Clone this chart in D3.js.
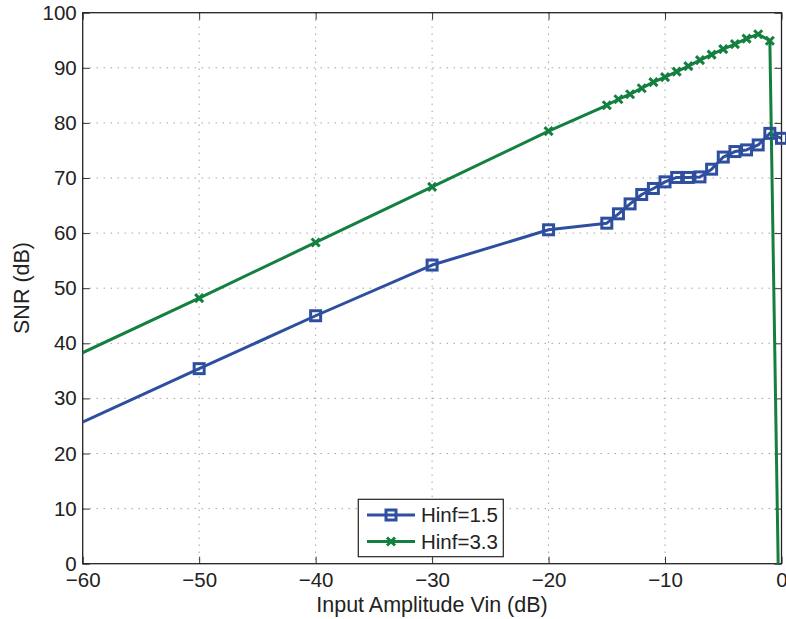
<!DOCTYPE html>
<html><head><meta charset="utf-8">
<script src="https://cdn.jsdelivr.net/npm/d3@7"></script>
<style>body{margin:0;background:#fff}svg{display:block}text{font-family:"Liberation Sans",Arial,sans-serif;fill:#222}</style>
</head><body><svg id="c" width="786" height="619"></svg>
<script>
const xTicks = [-60,-50,-40,-30,-20,-10,0];
const yTicks = [0,10,20,30,40,50,60,70,80,90,100];
const xVals = [-70,-50,-40,-30,-20,-15,-14,-13,-12,-11,-10,-9,-8,-7,-6,-5,-4,-3,-2,-1,0];
const hinf15 = [16.0,35.4,45.0,54.2,60.6,61.8,63.5,65.3,67.0,68.1,69.3,70.1,70.1,70.2,71.6,73.8,74.8,75.1,76.0,78.1,77.2];
const hinf33 = [28.4,48.2,58.3,68.4,78.5,83.2,84.3,85.2,86.3,87.4,88.3,89.3,90.3,91.4,92.4,93.4,94.3,95.3,96.1,94.9,-38];
const seriesNames = ["Hinf=1.5","Hinf=3.3"];
const colors = ["#2e4f9f","#13803f"];

const svg = d3.select("#c");
const L=82.7,R=781.5,T=12.7,B=563.7;
const x = d3.scaleLinear().domain([-60,0]).range([L,R]);
const y = d3.scaleLinear().domain([0,100]).range([B,T]);

svg.append("defs").append("clipPath").attr("id","clip").append("rect")
  .attr("x",L).attr("y",T).attr("width",R-L).attr("height",B-T);

// grid
const g = svg.append("g");
g.selectAll(".gx").data(xTicks.slice(1,-1)).enter().append("line")
  .attr("x1",d=>x(d)).attr("x2",d=>x(d)).attr("y1",T).attr("y2",B)
  .attr("stroke","#777").attr("stroke-width",1).attr("stroke-dasharray","1,6");
g.selectAll(".gy").data(yTicks.slice(1,-1)).enter().append("line")
  .attr("y1",d=>y(d)).attr("y2",d=>y(d)).attr("x1",L).attr("x2",R)
  .attr("stroke","#777").attr("stroke-width",1).attr("stroke-dasharray","1,6");

// axes
const ax = svg.append("g");
ax.append("g").attr("transform",`translate(0,${B})`)
  .call(d3.axisBottom(x).tickValues(xTicks).tickSizeInner(-7).tickSizeOuter(0).tickPadding(9).tickFormat(d=>d<0?"\u2212"+Math.abs(d):d))
  .call(s=>{s.select(".domain").remove();s.selectAll("text").attr("font-size",20.5).attr("fill","#222");s.selectAll("line").attr("stroke","#333");});
ax.append("g").attr("transform",`translate(0,${T})`)
  .call(d3.axisTop(x).tickValues(xTicks).tickSizeInner(-7).tickSizeOuter(0).tickFormat(""))
  .call(s=>{s.select(".domain").remove();s.selectAll("line").attr("stroke","#333");});
ax.append("g").attr("transform",`translate(${L},0)`)
  .call(d3.axisLeft(y).tickValues(yTicks).tickSizeInner(-7).tickSizeOuter(0).tickPadding(6))
  .call(s=>{s.select(".domain").remove();s.selectAll("text").attr("font-size",20.5).attr("fill","#222");s.selectAll("line").attr("stroke","#333");});
ax.append("g").attr("transform",`translate(${R},0)`)
  .call(d3.axisRight(y).tickValues(yTicks).tickSizeInner(-7).tickSizeOuter(0).tickFormat(""))
  .call(s=>{s.select(".domain").remove();s.selectAll("line").attr("stroke","#333");});
svg.append("rect").attr("x",L).attr("y",T).attr("width",R-L).attr("height",B-T)
  .attr("fill","none").attr("stroke","#222").attr("stroke-width",1.3);

const series = [hinf15,hinf33];
const line = d3.line().x((d,i)=>x(xVals[i])).y(d=>y(d));
const plot = svg.append("g").attr("clip-path","url(#clip)");
function marker(sel, k, cx, cy){
  if(k===0){
    sel.append("rect").attr("x",cx-5).attr("y",cy-5).attr("width",10).attr("height",10)
      .attr("fill","none").attr("stroke",colors[0]).attr("stroke-width",3);
  } else {
    const s=4;
    sel.append("path").attr("d",`M${cx-s},${cy-s}L${cx+s},${cy+s}M${cx-s},${cy+s}L${cx+s},${cy-s}`)
      .attr("stroke",colors[1]).attr("stroke-width",3).attr("fill","none");
  }
}
series.forEach((vals,k)=>{
  plot.append("path").attr("d",line(vals)).attr("fill","none")
    .attr("stroke",colors[k]).attr("stroke-width",3).attr("stroke-linejoin","round");
});
series.forEach((vals,k)=>{
  vals.forEach((v,i)=>{
    if(xVals[i]>=-60 && xVals[i]<=0 && v>=0 && v<=100){
      marker(svg.append("g"),k,x(xVals[i]),y(v));
    }
  });
});

// legend
const lg = svg.append("g");
lg.append("rect").attr("x",358.3).attr("y",499.3).attr("width",145).attr("height",57.4)
  .attr("fill","#fff").attr("stroke","#222").attr("stroke-width",1.2);
seriesNames.forEach((n,k)=>{
  const cy = 515 + k*26.5;
  lg.append("line").attr("x1",367).attr("x2",415).attr("y1",cy).attr("y2",cy)
    .attr("stroke",colors[k]).attr("stroke-width",3);
  marker(lg,k,391,cy);
  lg.append("text").attr("x",421).attr("y",cy).attr("dy","0.36em").attr("font-size",20.5).text(n);
});

// labels
svg.append("text").attr("x",432).attr("y",612).attr("text-anchor","middle").attr("font-size",21.5)
  .text("Input Amplitude Vin (dB)");
svg.append("text").attr("transform","translate(29,288) rotate(-90)").attr("text-anchor","middle").attr("font-size",21.5)
  .text("SNR (dB)");
</script></body></html>
